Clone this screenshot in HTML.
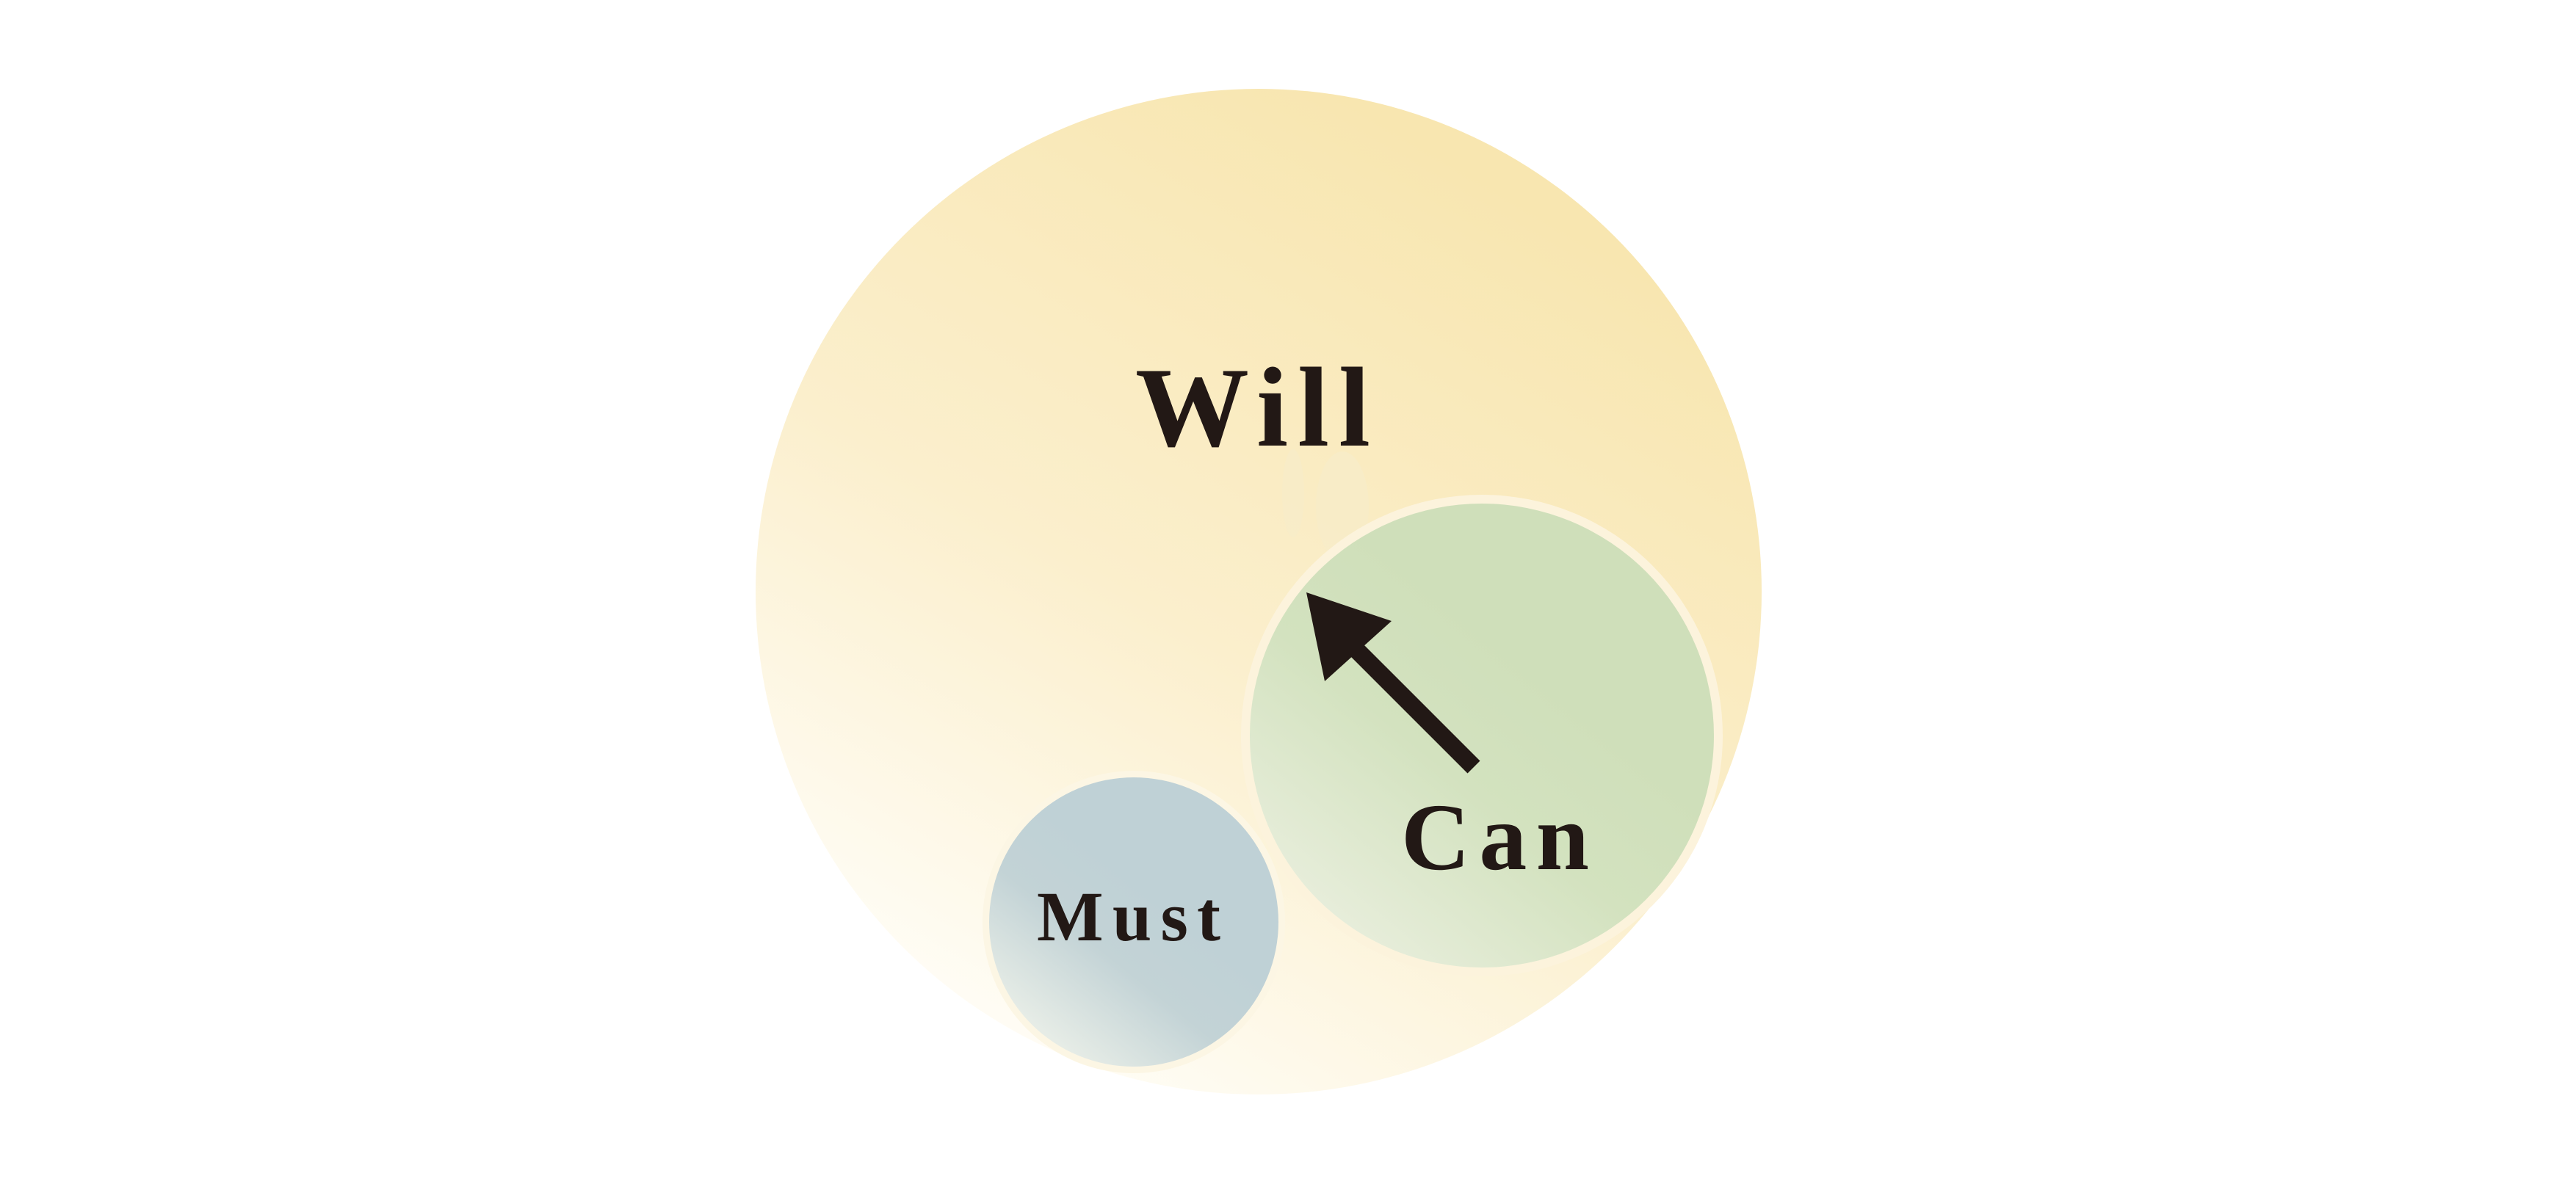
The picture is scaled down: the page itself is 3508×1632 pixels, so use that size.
<!DOCTYPE html>
<html><head><meta charset="utf-8"><style>html,body{margin:0;padding:0;background:#fff}svg{display:block}</style></head>
<body>
<svg width="3508" height="1632" viewBox="0 0 3508 1632" xmlns="http://www.w3.org/2000/svg">
<defs>
<linearGradient id="gw" x1="0.25" y1="0.95" x2="0.75" y2="0.1">
<stop offset="0" stop-color="#fffdf6"/><stop offset="0.45" stop-color="#fbefcd"/><stop offset="1" stop-color="#f8e6b0"/>
</linearGradient>
<linearGradient id="gc" x1="0.15" y1="0.9" x2="0.6" y2="0.35">
<stop offset="0" stop-color="#e8eedc"/><stop offset="0.6" stop-color="#d3e2bf"/><stop offset="1" stop-color="#cfdfba"/>
</linearGradient>
<linearGradient id="gm" x1="0.15" y1="0.9" x2="0.55" y2="0.4">
<stop offset="0" stop-color="#eaefe8"/><stop offset="0.6" stop-color="#c3d3d6"/><stop offset="1" stop-color="#bfd1d6"/>
</linearGradient>
</defs>
<circle cx="1714" cy="806" r="685" fill="url(#gw)"/>
<ellipse cx="1761" cy="672" rx="15" ry="60" fill="#f8ecc8" opacity="0.8"/>
<ellipse cx="1828" cy="690" rx="36" ry="75" fill="#f8ecc8" opacity="0.8"/>
<circle cx="2018" cy="1002" r="328" fill="#fcf3dc"/>
<circle cx="2018" cy="1002" r="316" fill="url(#gc)"/>
<circle cx="1544" cy="1256" r="206" fill="#fcf6e4"/>
<circle cx="1544" cy="1256" r="197" fill="url(#gm)"/>
<line x1="2007" y1="1045" x2="1820" y2="858" stroke="#221815" stroke-width="24"/>
<polygon points="1779,807 1895,846 1804,928" fill="#221815"/>
<g font-family="Liberation Serif, serif" font-weight="bold" fill="#221815">
<text x="1546" y="607" font-size="155" textLength="320" lengthAdjust="spacing">Will</text>
<text x="1908" y="1184" font-size="130" textLength="256" lengthAdjust="spacing">Can</text>
<text x="1412" y="1281" font-size="96" textLength="250" lengthAdjust="spacing">Must</text>
</g>
</svg>
</body></html>
